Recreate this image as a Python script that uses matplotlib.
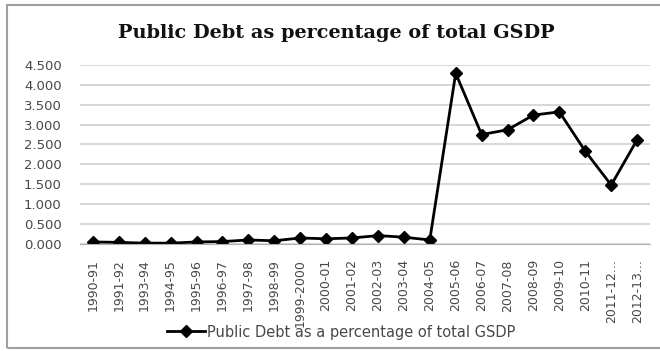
import matplotlib
matplotlib.use("Agg")
import matplotlib.pyplot as plt
from matplotlib.patches import Rectangle

years = ["1990-91", "1991-92", "1993-94", "1994-95", "1995-96", "1996-97", "1997-98",
         "1998-99", "1999-2000", "2000-01", "2001-02", "2002-03", "2003-04", "2004-05",
         "2005-06", "2006-07", "2007-08", "2008-09", "2009-10", "2010-11", "2011-12...",
         "2012-13..."]
debt = [0.05, 0.04, 0.02, 0.02, 0.05, 0.06, 0.10, 0.08, 0.15, 0.13, 0.15, 0.21,
        0.17, 0.10, 4.29, 2.75, 2.87, 3.24, 3.32, 2.33, 1.48, 2.62]
yticks = [0.0, 0.5, 1.0, 1.5, 2.0, 2.5, 3.0, 3.5, 4.0, 4.5]

plt.rcParams['font.family'] = ['DejaVu Sans']
fig = plt.figure(figsize=(6.6, 3.51), dpi=100)
ax = fig.add_axes([0.121, 0.305, 0.864, 0.51])

x = list(range(len(years)))
ax.plot(x, debt, color='black', lw=2, marker='D', markersize=6,
        label='Public Debt as a percentage of total GSDP')
ax.set_xlim(-0.5, len(years) - 0.5)
ax.set_ylim(0, 4.5)
ax.set_yticks(yticks)
ax.set_yticklabels([f"{v:.3f}" for v in yticks], fontsize=9.5, color='#484848')
ax.set_xticks(x)
ax.set_xticklabels(years, rotation=90, fontsize=9, color='#484848')
ax.tick_params(axis='y', length=0, pad=13)
ax.tick_params(axis='x', length=0, pad=11)
ax.grid(axis='y', color='#d4d4d4', lw=1.3)
ax.set_axisbelow(True)
for s in ['left', 'right', 'top']:
    ax.spines[s].set_visible(False)
ax.spines['bottom'].set_color('#b0b0b0')

fig.text(0.509, 0.906, "Public Debt as percentage of total GSDP", ha='center', va='center',
         fontsize=13.9, fontweight='bold', family='DejaVu Serif', color='#111111')

leg = fig.legend(loc='center', bbox_to_anchor=(0.517, 0.054), frameon=False, fontsize=10.5,
                 handlelength=2.6, handletextpad=0.1, labelcolor='#484848')
fig.patches.append(Rectangle((0.011, 0.008), 1.05, 0.978, transform=fig.transFigure,
                             fill=False, edgecolor='#a0a0a0', lw=1.5))
fig.savefig("out.png", dpi=100)
